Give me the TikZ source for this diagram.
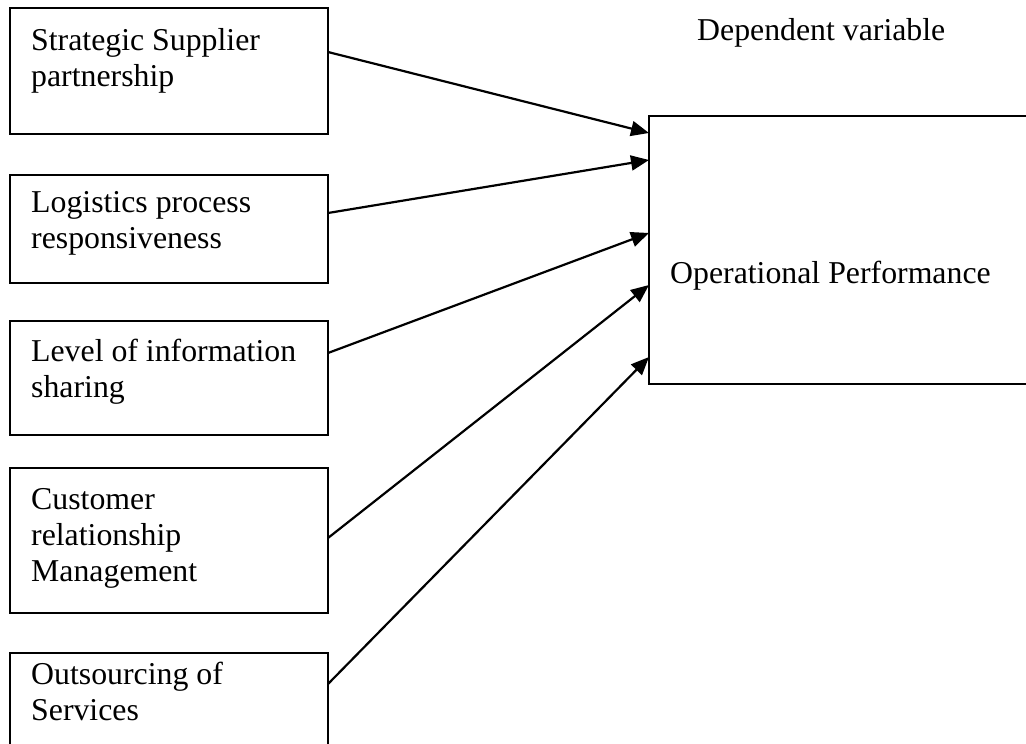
\documentclass[tikz,border=0pt]{standalone}
\usepackage{fontspec}
\setmainfont{Liberation Serif}
\usetikzlibrary{arrows.meta}
\begin{document}
\begin{tikzpicture}[x=1pt,y=-1pt,
  box/.style={draw,line width=2pt,inner sep=0pt,outer sep=0pt,anchor=north west},
  lbl/.style={anchor=base west,inner sep=0pt,align=left,font=\fontsize{31.8}{36}\selectfont},
  conn/.style={line width=2.2pt,-{Triangle[length=18pt,width=15pt]}}]
\useasboundingbox (0,0) rectangle (1026,744);
\clip (0,0) rectangle (1026,744);
% boxes
\node[box,minimum width=318pt,minimum height=126pt] (b1) at (10,8) {};
\node[box,minimum width=318pt,minimum height=108pt] (b2) at (10,175) {};
\node[box,minimum width=318pt,minimum height=114pt] (b3) at (10,321) {};
\node[box,minimum width=318pt,minimum height=145pt] (b4) at (10,468) {};
\node[box,minimum width=318pt,minimum height=110pt] (b5) at (10,653) {};
\node[box,minimum width=400pt,minimum height=268pt] (op) at (649,116) {};
% texts (anchor = baseline of the last line)
\node[lbl] (t1) at (31,86) {Strategic Supplier\\partnership};
\node[lbl] (t2) at (31,248) {Logistics process\\responsiveness};
\node[lbl] (t3) at (31,397) {Level of information\\sharing};
\node[lbl] (t4) at (31,581) {Customer\\relationship\\Management};
\node[lbl] (t5) at (31,720) {Outsourcing of\\Services};
\node[lbl] (top) at (670,283) {Operational Performance};
\node[lbl] (dep) at (697,40) {Dependent variable};
% connector ends
\path (b1.north east) ++(0,44) coordinate (s1);
\path (b2.north east) ++(0,38) coordinate (s2);
\path (b3.north east) ++(0,32) coordinate (s3);
\path (b4.north east) ++(0,70) coordinate (s4);
\path (b5.north east) ++(0,31) coordinate (s5);
\path (op.north west) ++(0,17) coordinate (e1);
\path (op.north west) ++(0,44) coordinate (e2);
\path (op.north west) ++(0,117) coordinate (e3);
\path (op.north west) ++(0,169) coordinate (e4);
\path (op.north west) ++(0,241) coordinate (e5);
\draw[conn] (s1) -- (e1);
\draw[conn] (s2) -- (e2);
\draw[conn] (s3) -- (e3);
\draw[conn] (s4) -- (e4);
\draw[conn] (s5) -- (e5);
\end{tikzpicture}
\end{document}
